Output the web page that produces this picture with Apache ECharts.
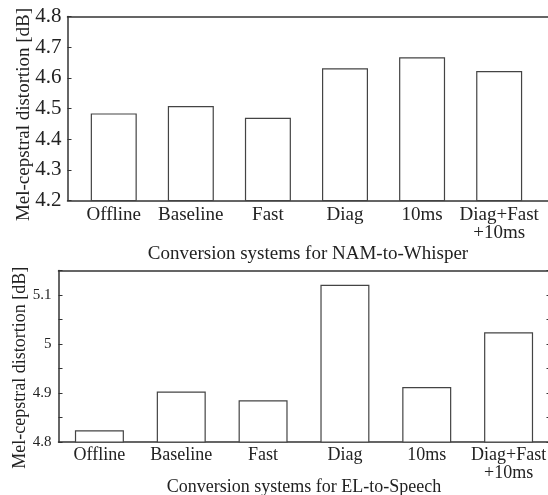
<!DOCTYPE html>
<html>
<head>
<meta charset="utf-8">
<script src="https://cdn.jsdelivr.net/npm/echarts@6/dist/echarts.min.js"></script>
<style>
  html, body { margin: 0; padding: 0; background: #fff; }
  #chart { width: 548px; height: 495px; }
</style>
</head>
<body>
<div id="chart"></div>
<script>
// systems on the x axis (positions 1..6)
const systems = ['Offline', 'Baseline', 'Fast', 'Diag', '10ms', 'Diag+Fast\n+10ms'];
const positions = [1, 2, 3, 4, 5, 6];
// mel-cepstral distortion [dB]
const namToWhisper = [4.484, 4.508, 4.470, 4.631, 4.667, 4.622];
const elToSpeech = [4.824, 4.903, 4.885, 5.121, 4.912, 5.024];

const font = 'Liberation Serif';
const ink = '#222';
const lineCol = '#333';

function pairs(vals) {
    return positions.map((p, i) => [p, vals[i]]);
}
function sysLabel(v) {
    return systems[Math.round(v) - 1] || '';
}

const chart = echarts.init(document.getElementById('chart'), null, {renderer: 'canvas'});

const axisLine = {show: true, lineStyle: {color: lineCol, width: 1.5}};

chart.setOption({
    animation: false,
    backgroundColor: '#fff',
    grid: [
        {left: 67.5, top: 16.5, width: 481, height: 184, outerBoundsMode: 'none', containLabel: false},
        {left: 58.5, top: 270.5, width: 491, height: 171.5, outerBoundsMode: 'none', containLabel: false}
    ],
    xAxis: [
        {
            gridIndex: 0, type: 'value', min: 0.4, max: 6.64,
            axisLine: axisLine, axisTick: {show: false}, splitLine: {show: false},
            axisLabel: {
                customValues: positions, formatter: sysLabel,
                fontFamily: font, fontSize: 19, lineHeight: 18, color: ink, margin: 6
            },
            name: 'Conversion systems for NAM-to-Whisper', nameLocation: 'middle',
            nameGap: 44, nameMoveOverlap: false,
            nameTextStyle: {fontFamily: font, fontSize: 19, color: ink}
        },
        {
            gridIndex: 0, type: 'value', position: 'top', min: 0.4, max: 6.64,
            axisLine: axisLine, axisTick: {show: false}, axisLabel: {show: false}, splitLine: {show: false}
        },
        {
            gridIndex: 1, type: 'value', min: 0.5, max: 6.5,
            axisLine: axisLine, axisTick: {show: false}, splitLine: {show: false},
            axisLabel: {
                customValues: positions, formatter: sysLabel,
                fontFamily: font, fontSize: 18, lineHeight: 18, color: ink, margin: 4
            },
            name: 'Conversion systems for EL-to-Speech', nameLocation: 'middle',
            nameGap: 36, nameMoveOverlap: false,
            nameTextStyle: {fontFamily: font, fontSize: 18, color: ink}
        },
        {
            gridIndex: 1, type: 'value', position: 'top', min: 0.5, max: 6.5,
            axisLine: axisLine, axisTick: {show: false}, axisLabel: {show: false}, splitLine: {show: false}
        }
    ],
    yAxis: [
        {
            gridIndex: 0, type: 'value', min: 4.2, max: 4.8, interval: 0.1,
            axisLine: axisLine, splitLine: {show: false},
            axisTick: {show: true, inside: true, length: 4, lineStyle: {color: lineCol}},
            axisLabel: {
                formatter: v => v.toFixed(1),
                fontFamily: font, fontSize: 21, color: ink, margin: 6
            },
            name: 'Mel-cepstral distortion [dB]', nameLocation: 'middle',
            nameGap: 34, nameMoveOverlap: false,
            nameTextStyle: {fontFamily: font, fontSize: 19, color: ink, padding: [0, 12, 0, 0]}
        },
        {
            gridIndex: 1, type: 'value', min: 4.8, max: 5.15, interval: 0.05,
            axisLine: axisLine, splitLine: {show: false},
            axisTick: {show: true, inside: true, length: 4, lineStyle: {color: lineCol}},
            axisLabel: {
                formatter: v => {
                    const t = v * 10;
                    return Math.abs(t - Math.round(t)) < 1e-6 && v < 5.14 ? String(+v.toFixed(1)) : '';
                },
                fontFamily: font, fontSize: 15, color: ink, margin: 7
            },
            name: 'Mel-cepstral distortion [dB]', nameLocation: 'middle',
            nameGap: 29, nameMoveOverlap: false,
            nameTextStyle: {fontFamily: font, fontSize: 18, color: ink, padding: [0, 23, 0, 0]}
        },
        {
            gridIndex: 1, type: 'value', position: 'right', min: 4.8, max: 5.15, interval: 0.05,
            axisLine: axisLine, splitLine: {show: false}, axisLabel: {show: false},
            axisTick: {show: true, inside: true, length: 3, lineStyle: {color: lineCol}}
        }
    ],
    series: [
        {
            type: 'bar', xAxisIndex: 0, yAxisIndex: 0,
            data: pairs(namToWhisper), barWidth: 46,
            itemStyle: {color: '#fff', borderColor: '#444', borderWidth: 1.2}
        },
        {
            type: 'bar', xAxisIndex: 2, yAxisIndex: 1,
            data: pairs(elToSpeech), barWidth: 49,
            itemStyle: {color: '#fff', borderColor: '#444', borderWidth: 1.2}
        }
    ]
});
</script>
</body>
</html>
